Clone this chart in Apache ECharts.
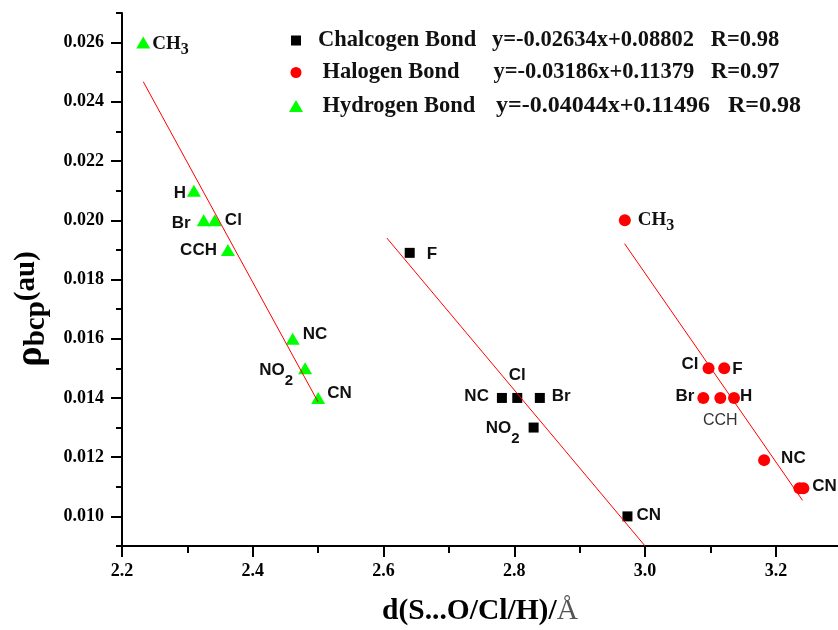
<!DOCTYPE html>
<html><head><meta charset="utf-8">
<script src="https://cdn.jsdelivr.net/npm/echarts@6/dist/echarts.min.js"></script>
<style>html,body{margin:0;padding:0;background:#fff}#c{width:838px;height:630px}</style>
</head><body><div id="c"></div>
<script>
// ---------------- data ----------------
const seriesNames = ['Chalcogen Bond', 'Halogen Bond', 'Hydrogen Bond'];
const fitEquations = ['y=-0.02634x+0.08802', 'y=-0.03186x+0.11379', 'y=-0.04044x+0.11496'];
const fitR = ['R=0.98', 'R=0.97', 'R=0.98'];

const chaNames = ['F', 'Cl', 'NC', 'Br', 'NO2', 'CN'];
const chaX = [2.640, 2.8045, 2.781, 2.839, 2.8295, 2.973];
const chaY = [0.0189, 0.0140, 0.0140, 0.0140, 0.0130, 0.0100];

const halNames = ['CH3', 'Cl', 'F', 'Br', 'CCH', 'H', 'NC', 'NO2', 'CN'];
const halX = [2.969, 3.097, 3.121, 3.089, 3.115, 3.136, 3.182, 3.236, 3.242];
const halY = [0.0200, 0.0150, 0.0150, 0.0140, 0.0140, 0.0140, 0.0119, 0.01095, 0.01095];

const hydNames = ['CH3', 'H', 'Br', 'Cl', 'CCH', 'NC', 'NO2', 'CN'];
const hydX = [2.2325, 2.310, 2.325, 2.342, 2.362, 2.461, 2.480, 2.500];
const hydY = [0.0260, 0.0210, 0.0200, 0.0200, 0.0190, 0.0160, 0.0150, 0.0140];

// fitted lines: end points
const chaFitX = [2.605, 3.000];
const chaFitY = [0.01940, 0.00900];
const halFitX = [2.9686, 3.2408];
const halFitY = [0.01921, 0.01054];
const hydFitX = [2.2325, 2.500];
const hydFitY = [0.02468, 0.01386];

const xTickLabels = ['2.2', '2.4', '2.6', '2.8', '3.0', '3.2'];
const xMinorTicks = ['2.3', '2.5', '2.7', '2.9', '3.1'];
const yTickLabels = ['0.010', '0.012', '0.014', '0.016', '0.018', '0.020', '0.022', '0.024', '0.026'];
const yMinorTicks = ['0.009', '0.011', '0.013', '0.015', '0.017', '0.019', '0.021', '0.023', '0.025', '0.027'];

// ---------------- label placement (style) ----------------
// [position, distance, dx, dy]
const labelLayout = {
  cha: {F: ['right', 12, 0, 3], Cl: ['top', 6, 0, 0], NC: ['left', 8, 0, 0], Br: ['right', 7, 0, 0], NO2: ['left', 9, 0, 2.7], CN: ['right', 4, 0, 0]},
  hal: {CH3: ['right', 7, 0, 0.2], Cl: ['left', 4, 0, -2.5], F: ['right', 2, 0, 2.4], Br: ['left', 3, 0, 0], CCH: ['bottom', 7, 0, 0], H: ['right', 0, 0, 0], NC: ['right', 11, 0, 0], NO2: null, CN: ['right', 3, 0, 0]},
  hyd: {CH3: ['right', 2, 0, 1.8], H: ['left', 1, 0, 4], Br: ['left', 6, 0, 5], Cl: ['right', 3, 0, 2], CCH: ['left', 4, 0, 2], NC: ['right', 3, 0, -3], NO2: ['left', 5, 0, 3.7], CN: ['right', 2, 0, -2.7]}
};

const SANS = 'Liberation Sans, Arial, sans-serif';
const SERIF = 'Liberation Serif, Times New Roman, serif';
const labelRich = {
  t: {fontFamily: SANS, fontSize: 17, fontWeight: 'bold', color: '#111', lineHeight: 20, verticalAlign: 'top'},
  ts: {fontFamily: SANS, fontSize: 15, fontWeight: 'bold', color: '#111', lineHeight: 15, padding: [11, 0, 0, 0], verticalAlign: 'top'},
  ch: {fontFamily: SERIF, fontSize: 19, fontWeight: 'bold', color: '#111', lineHeight: 20, verticalAlign: 'top'},
  chs: {fontFamily: SERIF, fontSize: 16, fontWeight: 'bold', color: '#111', lineHeight: 16, padding: [7, 0, 0, 0], verticalAlign: 'top'},
  g: {fontFamily: SANS, fontSize: 16, color: '#333', lineHeight: 20}
};

function labelText(name, group) {
  if (name === 'CH3') return '{ch|CH}{chs|3}';
  if (name === 'NO2') return '{t|NO}{ts|2}';
  if (name === 'CCH' && group === 'hal') return '{g|CCH}';
  return '{t|' + name + '}';
}

function buildPoints(names, xs, ys, group) {
  return names.map(function (n, i) {
    const lay = labelLayout[group][n];
    const item = {name: n, value: [xs[i], ys[i]]};
    if (!lay) { item.label = {show: false}; return item; }
    item.label = {show: true, position: lay[0], distance: lay[1], offset: [lay[2], lay[3]], formatter: labelText(n, group), rich: labelRich};
    return item;
  });
}
function buildLine(xs, ys) { return xs.map(function (x, i) { return [x, ys[i]]; }); }

function nearestLabel(v, labels) {
  let best = labels[0], bd = Infinity;
  labels.forEach(function (l) { const d = Math.abs(Number(l) - v); if (d < bd) { bd = d; best = l; } });
  return best;
}

const colors = ['#000000', '#ff0000', '#00ff00'];
const icons = ['rect', 'circle', 'triangle'];
const legendLeft = [291, 290.5, 289];
const legendTop = [29, 61, 94];
const legendIcon = [[10, 10], [11, 11], [14, 12]];
const legendPad = [12, 16, 14.5];
const legendNameW = [174, 171, 173.5];
const legendEqFont = [22.5, 22.5, 24];

const chart = echarts.init(document.getElementById('c'), null, {renderer: 'canvas'});

const axisCommon = {
  axisLine: {show: true, onZero: false, lineStyle: {color: '#000', width: 2}},
  splitLine: {show: false}
};
const tickFont = {fontFamily: SERIF, fontWeight: 'bold', fontSize: 18, color: '#000'};

const option = {
  animation: false,
  backgroundColor: '#fff',
  grid: {left: 122, right: 0, top: 13, bottom: 84, outerBoundsMode: 'none'},
  xAxis: [
    Object.assign({}, axisCommon, {
      type: 'value', min: 2.2, max: 3.295, position: 'bottom',
      axisTick: {show: true, customValues: xTickLabels.map(Number), length: 11, lineStyle: {color: '#000', width: 2}},
      axisLabel: Object.assign({show: true, customValues: xTickLabels.map(Number), margin: 16,
        formatter: function (v) { return nearestLabel(v, xTickLabels); }}, tickFont),
      name: '{a|d(S...O/Cl/H)/}{b|Å}', nameLocation: 'middle', nameGap: 50,
      nameTextStyle: {rich: {
        a: {fontFamily: SERIF, fontWeight: 'bold', fontSize: 29.5, color: '#000'},
        b: {fontFamily: SERIF, fontWeight: 'normal', fontSize: 29.5, color: '#555'}
      }}
    }),
    {type: 'value', min: 2.2, max: 3.295, position: 'bottom', axisLine: {show: false, onZero: false},
      axisTick: {show: true, customValues: xMinorTicks.map(Number), length: 7, lineStyle: {color: '#000', width: 2}},
      axisLabel: {show: false}, splitLine: {show: false}}
  ],
  yAxis: [
    Object.assign({}, axisCommon, {
      type: 'value', min: 0.009, max: 0.027, position: 'left',
      axisTick: {show: true, customValues: yTickLabels.map(Number), length: 11, lineStyle: {color: '#000', width: 2}},
      axisLabel: Object.assign({show: true, customValues: yTickLabels.map(Number), margin: 18,
        formatter: function (v) { return nearestLabel(v, yTickLabels); }}, tickFont)
    }),
    {type: 'value', min: 0.009, max: 0.027, position: 'left', axisLine: {show: false, onZero: false},
      axisTick: {show: true, customValues: yMinorTicks.map(Number), length: 6, lineStyle: {color: '#000', width: 2}},
      axisLabel: {show: false}, splitLine: {show: false}}
  ],
  legend: seriesNames.map(function (n, i) {
    return {
      data: [{name: n, icon: icons[i]}],
      left: legendLeft[i], top: legendTop[i], padding: 0,
      itemWidth: legendIcon[i][0], itemHeight: legendIcon[i][1],
      selectedMode: false,
      formatter: function (name) {
        const k = seriesNames.indexOf(name);
        return '{n|' + name + '}{e|' + fitEquations[k] + '   ' + fitR[k] + '}';
      },
      textStyle: {rich: {
        n: {fontFamily: SERIF, fontWeight: 'bold', fontSize: 22.5, color: '#111', lineHeight: 26, width: legendNameW[i], padding: [0, 0, 0, legendPad[i]]},
        e: {fontFamily: SERIF, fontWeight: 'bold', fontSize: legendEqFont[i], color: '#111', lineHeight: 26}
      }}
    };
  }),
  graphic: [{
    type: 'text', x: 29, y: 309, rotation: Math.PI / 2,
    style: {
      text: '{r|ρ}{s|bcp}{a|(au)}', align: 'center', verticalAlign: 'middle',
      rich: {
        r: {fontFamily: SERIF, fontWeight: 'bold', fontSize: 38, lineHeight: 34, verticalAlign: 'top', fill: '#000', color: '#000'},
        s: {fontFamily: SERIF, fontWeight: 'bold', fontSize: 29, lineHeight: 28, padding: [10, 0, 0, 0], verticalAlign: 'top', fill: '#000', color: '#000'},
        a: {fontFamily: SERIF, fontWeight: 'bold', fontSize: 29, lineHeight: 34, verticalAlign: 'top', fill: '#000', color: '#000'}
      }
    }
  }],
  series: [
    {type: 'scatter', name: seriesNames[0], symbol: 'rect', symbolSize: 10, itemStyle: {color: colors[0], opacity: 1},
      data: buildPoints(chaNames, chaX, chaY, 'cha'), z: 2},
    {type: 'scatter', name: seriesNames[1], symbol: 'circle', symbolSize: 12, itemStyle: {color: colors[1], opacity: 1},
      data: buildPoints(halNames, halX, halY, 'hal'), z: 2},
    {type: 'scatter', name: seriesNames[2], symbol: 'triangle', symbolSize: [14, 12], itemStyle: {color: colors[2], opacity: 1},
      data: buildPoints(hydNames, hydX, hydY, 'hyd'), z: 2},
    {type: 'line', name: 'fit1', data: buildLine(chaFitX, chaFitY), symbol: 'none', silent: true, z: 3,
      lineStyle: {color: '#ff0000', width: 1}, itemStyle: {color: '#ff0000'}},
    {type: 'line', name: 'fit2', data: buildLine(halFitX, halFitY), symbol: 'none', silent: true, z: 3,
      lineStyle: {color: '#ff0000', width: 1}, itemStyle: {color: '#ff0000'}},
    {type: 'line', name: 'fit3', data: buildLine(hydFitX, hydFitY), symbol: 'none', silent: true, z: 3,
      lineStyle: {color: '#ff0000', width: 1}, itemStyle: {color: '#ff0000'}}
  ]
};
chart.setOption(option);
</script>
</body></html>
